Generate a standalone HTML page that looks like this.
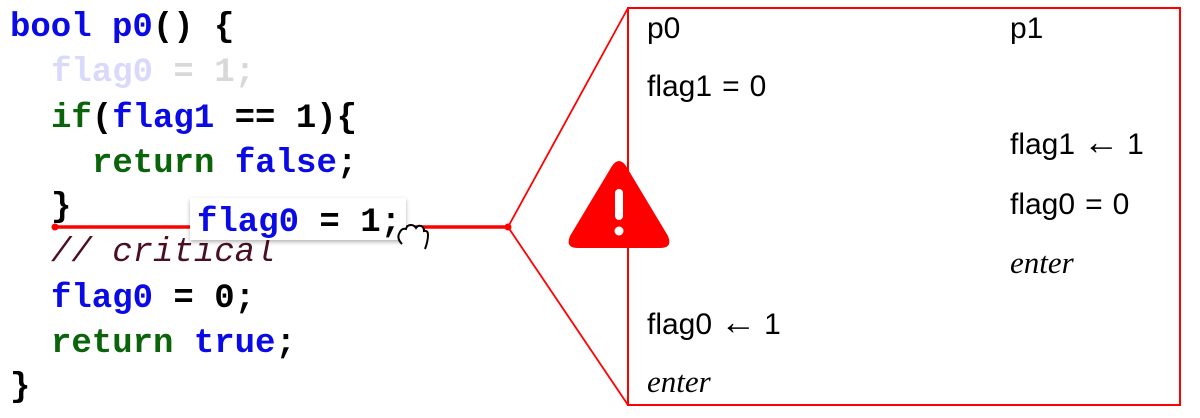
<!DOCTYPE html>
<html><head><meta charset="utf-8"><style>
html,body{margin:0;padding:0;background:#fff;}
svg{display:block}
.m{font-family:"Liberation Mono",monospace;font-size:34px;font-weight:bold}
.s{font-family:"Liberation Sans",sans-serif;font-size:30px;fill:#000}
.i{font-family:"Liberation Serif",serif;font-style:italic;font-size:31px;fill:#000}
.b{fill:#0a0ae6}.g{fill:#0a640a}.k{fill:#000}
</style></head><body>
<svg width="1200" height="418" viewBox="0 0 1200 418">
<g>
<text class="m" x="10" y="36"><tspan class="b">bool p0</tspan><tspan class="k">() {</tspan></text>
<text class="m" x="51" y="81" style="opacity:.15"><tspan class="b">flag0</tspan><tspan class="k"> = 1;</tspan></text>
<text class="m" x="51" y="127"><tspan class="g">if</tspan><tspan class="k">(</tspan><tspan class="b">flag1</tspan><tspan class="k"> == 1){</tspan></text>
<text class="m" x="92" y="172"><tspan class="g">return</tspan><tspan class="b"> false</tspan><tspan class="k">;</tspan></text>
<text class="m k" x="51" y="216">}</text>
<text class="m" x="51" y="261" style="fill:#4a0f22;font-style:italic;font-weight:normal">// critical</text>
<text class="m" x="51" y="307"><tspan class="b">flag0</tspan><tspan class="k"> = 0;</tspan></text>
<text class="m" x="51" y="352"><tspan class="g">return</tspan><tspan class="b"> true</tspan><tspan class="k">;</tspan></text>
<text class="m k" x="10" y="396">}</text>
</g>
<line x1="55" y1="227" x2="508" y2="227" stroke="#f00" stroke-width="3.5"/>
<circle cx="55" cy="227" r="3.5" fill="#f00"/>
<circle cx="508" cy="227" r="3.5" fill="#f00"/>
<defs><filter id="sh" x="-10%" y="-30%" width="120%" height="160%"><feDropShadow dx="0" dy="2" stdDeviation="2" flood-opacity="0.3"/></filter></defs>
<g>
<rect x="190" y="198" width="216" height="42" fill="#fff" filter="url(#sh)"/>
<text class="m" x="197" y="231"><tspan class="b">flag0</tspan><tspan class="k"> = 1;</tspan></text>
<path d="M340 244 q-6 -6 -2 -12 q2 -4 6 -3 q1 -4 5 -4 q3 0 5 3 q2 -3 5 -2 q3 1 3 5 q4 -1 4 4 q0 6 -3 14" fill="#fff" stroke="#000" stroke-width="2" transform="translate(62 0)"/>
</g>
<line x1="508" y1="227" x2="628" y2="8" stroke="#f00" stroke-width="1.8"/>
<line x1="508" y1="227" x2="628" y2="405" stroke="#f00" stroke-width="1.8"/>
<rect x="628" y="8" width="552" height="397" fill="none" stroke="#f00" stroke-width="2"/>
<g>
<path d="M612 166 Q619 156 626 166 L668 236 Q673 248 660 248 L578 248 Q565 248 570 236 Z" fill="#f00"/>
<rect x="615" y="189" width="8" height="31" rx="4" fill="#fff"/>
<circle cx="619" cy="231" r="4.5" fill="#fff"/>
</g>
<g>
<text class="s" x="647" y="38">p0</text>
<text class="s" x="1010" y="38">p1</text>
<text class="s" x="647" y="96">flag1<tspan dx="10">=</tspan><tspan dx="10">0</tspan></text>
<text class="s" x="1010" y="154">flag1<tspan dx="8" font-size="36">←</tspan><tspan dx="8">1</tspan></text>
<text class="s" x="1010" y="214">flag0<tspan dx="10">=</tspan><tspan dx="10">0</tspan></text>
<text class="i" x="1010" y="273">enter</text>
<text class="s" x="647" y="334">flag0<tspan dx="8" font-size="36">←</tspan><tspan dx="8">1</tspan></text>
<text class="i" x="647" y="392">enter</text>
</g>
</svg>
</body></html>
